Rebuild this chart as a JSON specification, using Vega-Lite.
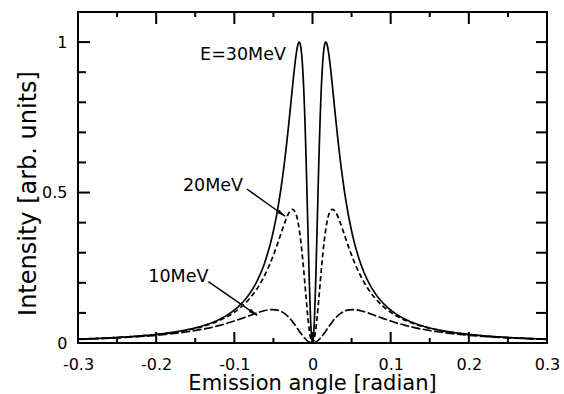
{
  "$schema": "https://vega.github.io/schema/vega-lite/v6.json",
  "width": 469,
  "height": 331,
  "autosize": {"type": "none"},
  "padding": {"left": 78, "top": 12, "right": 17, "bottom": 51},
  "background": "white",
  "datasets": {
    "curves": [
      {"E": "30", "x": -0.3, "y": 0.0128}, {"E": "30", "x": -0.28, "y": 0.0147}, {"E": "30", "x": -0.25, "y": 0.0184}, {"E": "30", "x": -0.22, "y": 0.0237}, {"E": "30", "x": -0.2, "y": 0.0286}, {"E": "30", "x": -0.18, "y": 0.0352}, {"E": "30", "x": -0.16, "y": 0.0443}, {"E": "30", "x": -0.14, "y": 0.0575}, {"E": "30", "x": -0.12, "y": 0.0774}, {"E": "30", "x": -0.1, "y": 0.1096}, {"E": "30", "x": -0.09, "y": 0.1335}, {"E": "30", "x": -0.08, "y": 0.1659}, {"E": "30", "x": -0.07, "y": 0.2111}, {"E": "30", "x": -0.06, "y": 0.2761}, {"E": "30", "x": -0.05, "y": 0.3727}, {"E": "30", "x": -0.045, "y": 0.4384}, {"E": "30", "x": -0.04, "y": 0.5197}, {"E": "30", "x": -0.035, "y": 0.6193}, {"E": "30", "x": -0.03, "y": 0.7374}, {"E": "30", "x": -0.027, "y": 0.8145}, {"E": "30", "x": -0.024, "y": 0.8911}, {"E": "30", "x": -0.021, "y": 0.9574}, {"E": "30", "x": -0.019, "y": 0.9882}, {"E": "30", "x": -0.017, "y": 1.0}, {"E": "30", "x": -0.015, "y": 0.984}, {"E": "30", "x": -0.014, "y": 0.9625}, {"E": "30", "x": -0.012, "y": 0.8867}, {"E": "30", "x": -0.01, "y": 0.7625}, {"E": "30", "x": -0.008, "y": 0.5923}, {"E": "30", "x": -0.006, "y": 0.3928}, {"E": "30", "x": -0.004, "y": 0.1981}, {"E": "30", "x": -0.002, "y": 0.0537}, {"E": "30", "x": 0, "y": 0},
      {"E": "30", "x": 0.002, "y": 0.0537}, {"E": "30", "x": 0.004, "y": 0.1981}, {"E": "30", "x": 0.006, "y": 0.3928}, {"E": "30", "x": 0.008, "y": 0.5923}, {"E": "30", "x": 0.01, "y": 0.7625}, {"E": "30", "x": 0.012, "y": 0.8867}, {"E": "30", "x": 0.014, "y": 0.9625}, {"E": "30", "x": 0.015, "y": 0.984}, {"E": "30", "x": 0.017, "y": 1.0}, {"E": "30", "x": 0.019, "y": 0.9882}, {"E": "30", "x": 0.021, "y": 0.9574}, {"E": "30", "x": 0.024, "y": 0.8911}, {"E": "30", "x": 0.027, "y": 0.8145}, {"E": "30", "x": 0.03, "y": 0.7374}, {"E": "30", "x": 0.035, "y": 0.6193}, {"E": "30", "x": 0.04, "y": 0.5197}, {"E": "30", "x": 0.045, "y": 0.4384}, {"E": "30", "x": 0.05, "y": 0.3727}, {"E": "30", "x": 0.06, "y": 0.2761}, {"E": "30", "x": 0.07, "y": 0.2111}, {"E": "30", "x": 0.08, "y": 0.1659}, {"E": "30", "x": 0.09, "y": 0.1335}, {"E": "30", "x": 0.1, "y": 0.1096}, {"E": "30", "x": 0.12, "y": 0.0774}, {"E": "30", "x": 0.14, "y": 0.0575}, {"E": "30", "x": 0.16, "y": 0.0443}, {"E": "30", "x": 0.18, "y": 0.0352}, {"E": "30", "x": 0.2, "y": 0.0286}, {"E": "30", "x": 0.22, "y": 0.0237}, {"E": "30", "x": 0.25, "y": 0.0184}, {"E": "30", "x": 0.28, "y": 0.0147}, {"E": "30", "x": 0.3, "y": 0.0128},
      {"E": "20", "x": -0.3, "y": 0.0127}, {"E": "20", "x": -0.28, "y": 0.0146}, {"E": "20", "x": -0.25, "y": 0.0182}, {"E": "20", "x": -0.22, "y": 0.0233}, {"E": "20", "x": -0.2, "y": 0.0281}, {"E": "20", "x": -0.18, "y": 0.0344}, {"E": "20", "x": -0.16, "y": 0.0431}, {"E": "20", "x": -0.14, "y": 0.0555}, {"E": "20", "x": -0.12, "y": 0.0737}, {"E": "20", "x": -0.1, "y": 0.1023}, {"E": "20", "x": -0.09, "y": 0.1227}, {"E": "20", "x": -0.08, "y": 0.1493}, {"E": "20", "x": -0.07, "y": 0.1844}, {"E": "20", "x": -0.06, "y": 0.231}, {"E": "20", "x": -0.05, "y": 0.2919}, {"E": "20", "x": -0.045, "y": 0.3277}, {"E": "20", "x": -0.04, "y": 0.3659}, {"E": "20", "x": -0.035, "y": 0.4032}, {"E": "20", "x": -0.03, "y": 0.4332}, {"E": "20", "x": -0.0255, "y": 0.4444}, {"E": "20", "x": -0.021, "y": 0.4278}, {"E": "20", "x": -0.018, "y": 0.3941}, {"E": "20", "x": -0.015, "y": 0.3389}, {"E": "20", "x": -0.012, "y": 0.2632}, {"E": "20", "x": -0.01, "y": 0.2048}, {"E": "20", "x": -0.008, "y": 0.1445}, {"E": "20", "x": -0.006, "y": 0.088}, {"E": "20", "x": -0.004, "y": 0.0415}, {"E": "20", "x": -0.002, "y": 0.0108}, {"E": "20", "x": 0, "y": 0},
      {"E": "20", "x": 0.002, "y": 0.0108}, {"E": "20", "x": 0.004, "y": 0.0415}, {"E": "20", "x": 0.006, "y": 0.088}, {"E": "20", "x": 0.008, "y": 0.1445}, {"E": "20", "x": 0.01, "y": 0.2048}, {"E": "20", "x": 0.012, "y": 0.2632}, {"E": "20", "x": 0.015, "y": 0.3389}, {"E": "20", "x": 0.018, "y": 0.3941}, {"E": "20", "x": 0.021, "y": 0.4278}, {"E": "20", "x": 0.0255, "y": 0.4444}, {"E": "20", "x": 0.03, "y": 0.4332}, {"E": "20", "x": 0.035, "y": 0.4032}, {"E": "20", "x": 0.04, "y": 0.3659}, {"E": "20", "x": 0.045, "y": 0.3277}, {"E": "20", "x": 0.05, "y": 0.2919}, {"E": "20", "x": 0.06, "y": 0.231}, {"E": "20", "x": 0.07, "y": 0.1844}, {"E": "20", "x": 0.08, "y": 0.1493}, {"E": "20", "x": 0.09, "y": 0.1227}, {"E": "20", "x": 0.1, "y": 0.1023}, {"E": "20", "x": 0.12, "y": 0.0737}, {"E": "20", "x": 0.14, "y": 0.0555}, {"E": "20", "x": 0.16, "y": 0.0431}, {"E": "20", "x": 0.18, "y": 0.0344}, {"E": "20", "x": 0.2, "y": 0.0281}, {"E": "20", "x": 0.22, "y": 0.0233}, {"E": "20", "x": 0.25, "y": 0.0182}, {"E": "20", "x": 0.28, "y": 0.0146}, {"E": "20", "x": 0.3, "y": 0.0127},
      {"E": "10", "x": -0.3, "y": 0.0122}, {"E": "10", "x": -0.28, "y": 0.0139}, {"E": "10", "x": -0.25, "y": 0.0171}, {"E": "10", "x": -0.22, "y": 0.0216}, {"E": "10", "x": -0.2, "y": 0.0256}, {"E": "10", "x": -0.18, "y": 0.0307}, {"E": "10", "x": -0.16, "y": 0.0373}, {"E": "10", "x": -0.14, "y": 0.0461}, {"E": "10", "x": -0.12, "y": 0.0577}, {"E": "10", "x": -0.1, "y": 0.073}, {"E": "10", "x": -0.09, "y": 0.0819}, {"E": "10", "x": -0.08, "y": 0.0915}, {"E": "10", "x": -0.07, "y": 0.1008}, {"E": "10", "x": -0.063, "y": 0.1064}, {"E": "10", "x": -0.057, "y": 0.1098}, {"E": "10", "x": -0.051, "y": 0.1111}, {"E": "10", "x": -0.045, "y": 0.1093}, {"E": "10", "x": -0.04, "y": 0.1047}, {"E": "10", "x": -0.035, "y": 0.0966}, {"E": "10", "x": -0.03, "y": 0.0847}, {"E": "10", "x": -0.025, "y": 0.0693}, {"E": "10", "x": -0.02, "y": 0.0512}, {"E": "10", "x": -0.015, "y": 0.0325}, {"E": "10", "x": -0.01, "y": 0.0158}, {"E": "10", "x": -0.005, "y": 0.0042}, {"E": "10", "x": 0, "y": 0},
      {"E": "10", "x": 0.005, "y": 0.0042}, {"E": "10", "x": 0.01, "y": 0.0158}, {"E": "10", "x": 0.015, "y": 0.0325}, {"E": "10", "x": 0.02, "y": 0.0512}, {"E": "10", "x": 0.025, "y": 0.0693}, {"E": "10", "x": 0.03, "y": 0.0847}, {"E": "10", "x": 0.035, "y": 0.0966}, {"E": "10", "x": 0.04, "y": 0.1047}, {"E": "10", "x": 0.045, "y": 0.1093}, {"E": "10", "x": 0.051, "y": 0.1111}, {"E": "10", "x": 0.057, "y": 0.1098}, {"E": "10", "x": 0.063, "y": 0.1064}, {"E": "10", "x": 0.07, "y": 0.1008}, {"E": "10", "x": 0.08, "y": 0.0915}, {"E": "10", "x": 0.09, "y": 0.0819}, {"E": "10", "x": 0.1, "y": 0.073}, {"E": "10", "x": 0.12, "y": 0.0577}, {"E": "10", "x": 0.14, "y": 0.0461}, {"E": "10", "x": 0.16, "y": 0.0373}, {"E": "10", "x": 0.18, "y": 0.0307}, {"E": "10", "x": 0.2, "y": 0.0256}, {"E": "10", "x": 0.22, "y": 0.0216}, {"E": "10", "x": 0.25, "y": 0.0171}, {"E": "10", "x": 0.28, "y": 0.0139}, {"E": "10", "x": 0.3, "y": 0.0122}
    ],
    "labels": [
      {"label": "E=30MeV", "x": -0.1438, "y": 0.956},
      {"label": "20MeV", "x": -0.1657, "y": 0.5205},
      {"label": "10MeV", "x": -0.21, "y": 0.2208}
    ],
    "arrows": [
      {"name": "20MeV", "x": -0.084, "y": 0.5118, "x2": -0.035, "y2": 0.4212},
      {"name": "10MeV", "x": -0.1332, "y": 0.2041, "x2": -0.0708, "y2": 0.0916}
    ],
    "xmajor": [{"v": -0.2}, {"v": -0.1}, {"v": 0}, {"v": 0.1}, {"v": 0.2}],
    "xminor": [{"v": -0.25}, {"v": -0.15}, {"v": -0.05}, {"v": 0.05}, {"v": 0.15}, {"v": 0.25}],
    "ymajor": [{"v": 0.5}, {"v": 1}],
    "yminor": [{"v": 0.1}, {"v": 0.2}, {"v": 0.3}, {"v": 0.4}, {"v": 0.6}, {"v": 0.7}, {"v": 0.8}, {"v": 0.9}],
    "yright": [{"v": 0.1}, {"v": 0.2}, {"v": 0.3}, {"v": 0.4}, {"v": 0.5}, {"v": 0.6}, {"v": 0.7}, {"v": 0.8}, {"v": 0.9}, {"v": 1}]
  },
  "resolve": {"axis": {"x": "independent", "y": "independent"}},
  "layer": [
    {
      "data": {"name": "curves"},
      "mark": {"type": "line", "color": "black", "strokeWidth": 1.7, "interpolate": "monotone"},
      "encoding": {
        "x": {"field": "x", "type": "quantitative",
          "scale": {"domain": [-0.3, 0.3], "nice": false, "zero": false},
          "axis": {"orient": "bottom", "values": [-0.3, -0.2, -0.1, 0, 0.1, 0.2, 0.3], "ticks": false, "labelPadding": 13,
            "labelExpr": "'' + datum.value", "labelFlush": false, "labelOverlap": false, "labelBound": false,
            "title": "Emission angle [radian]", "titleFontSize": 21, "titleX": 234, "titleY": 46, "titleBaseline": "alphabetic", "titleAnchor": "middle"}},
        "y": {"field": "y", "type": "quantitative",
          "scale": {"domain": [0, 1.1], "nice": false, "zero": false},
          "axis": {"orient": "left", "values": [0, 0.5, 1], "ticks": false, "labelPadding": 11,
            "labelExpr": "'' + datum.value", "labelOverlap": false, "labelBound": false, "labelFlush": false,
            "title": "Intensity [arb. units]", "titleFontSize": 24, "titleX": -50, "titleY": 181, "titleAngle": -90, "titleBaseline": "middle", "titleAlign": "center"}},
        "detail": {"field": "E"},
        "strokeDash": {"field": "E", "type": "nominal",
          "scale": {"domain": ["30", "20", "10"], "range": [[1, 0], [5, 3], [9, 2.5]]}, "legend": null}
      }
    },
    {
      "data": {"name": "labels"},
      "mark": {"type": "text", "align": "left", "baseline": "middle", "fontSize": 17.5, "font": "DejaVu Sans", "color": "black"},
      "encoding": {
        "x": {"field": "x", "type": "quantitative", "axis": null},
        "y": {"field": "y", "type": "quantitative", "axis": null},
        "text": {"field": "label"}
      }
    },
    {
      "data": {"name": "arrows"},
      "mark": {"type": "rule", "color": "black", "strokeWidth": 1.5},
      "encoding": {
        "x": {"field": "x", "type": "quantitative", "axis": null},
        "y": {"field": "y", "type": "quantitative", "axis": null},
        "x2": {"field": "x2"},
        "y2": {"field": "y2"}
      }
    },
    {
      "data": {"name": "arrows"},
      "mark": {"type": "point", "shape": "M0,0L0.5,2.2L-0.5,2.2Z", "filled": true, "color": "black", "size": 64, "angle": 125, "opacity": 1},
      "encoding": {
        "x": {"field": "x2", "type": "quantitative", "axis": null},
        "y": {"field": "y2", "type": "quantitative", "axis": null}
      }
    },
    {
      "data": {"name": "xmajor"},
      "mark": {"type": "tick", "orient": "vertical", "size": 22, "thickness": 2, "color": "black", "opacity": 1, "clip": true},
      "encoding": {
        "x": {"field": "v", "type": "quantitative", "axis": null},
        "y": {"datum": 0, "type": "quantitative", "axis": null}
      }
    },
    {
      "data": {"name": "xmajor"},
      "mark": {"type": "tick", "orient": "vertical", "size": 24, "thickness": 2, "color": "black", "opacity": 1, "clip": true},
      "encoding": {
        "x": {"field": "v", "type": "quantitative", "axis": null},
        "y": {"datum": 1.1, "type": "quantitative", "axis": null}
      }
    },
    {
      "data": {"name": "xminor"},
      "mark": {"type": "tick", "orient": "vertical", "size": 10, "thickness": 2, "color": "black", "opacity": 1, "clip": true},
      "encoding": {
        "x": {"field": "v", "type": "quantitative", "axis": null},
        "y": {"datum": 0, "type": "quantitative", "axis": null}
      }
    },
    {
      "data": {"name": "xminor"},
      "mark": {"type": "tick", "orient": "vertical", "size": 10, "thickness": 2, "color": "black", "opacity": 1, "clip": true},
      "encoding": {
        "x": {"field": "v", "type": "quantitative", "axis": null},
        "y": {"datum": 1.1, "type": "quantitative", "axis": null}
      }
    },
    {
      "data": {"name": "ymajor"},
      "mark": {"type": "tick", "orient": "horizontal", "size": 24, "thickness": 2, "color": "black", "opacity": 1, "clip": true},
      "encoding": {
        "y": {"field": "v", "type": "quantitative", "axis": null},
        "x": {"datum": -0.3, "type": "quantitative", "axis": null}
      }
    },
    {
      "data": {"name": "yminor"},
      "mark": {"type": "tick", "orient": "horizontal", "size": 16, "thickness": 2, "color": "black", "opacity": 1, "clip": true},
      "encoding": {
        "y": {"field": "v", "type": "quantitative", "axis": null},
        "x": {"datum": -0.3, "type": "quantitative", "axis": null}
      }
    },
    {
      "data": {"name": "yright"},
      "mark": {"type": "tick", "orient": "horizontal", "size": 22, "thickness": 2, "color": "black", "opacity": 1, "clip": true},
      "encoding": {
        "y": {"field": "v", "type": "quantitative", "axis": null},
        "x": {"datum": 0.3, "type": "quantitative", "axis": null}
      }
    }
  ],
  "config": {
    "view": {"stroke": "black", "strokeWidth": 2},
    "font": "DejaVu Sans",
    "axis": {"domain": false, "grid": false, "tickColor": "black",
      "labelColor": "black", "labelFont": "DejaVu Sans", "labelFontSize": 16,
      "titleColor": "black", "titleFont": "DejaVu Sans", "titleFontWeight": "normal"}
  }
}
